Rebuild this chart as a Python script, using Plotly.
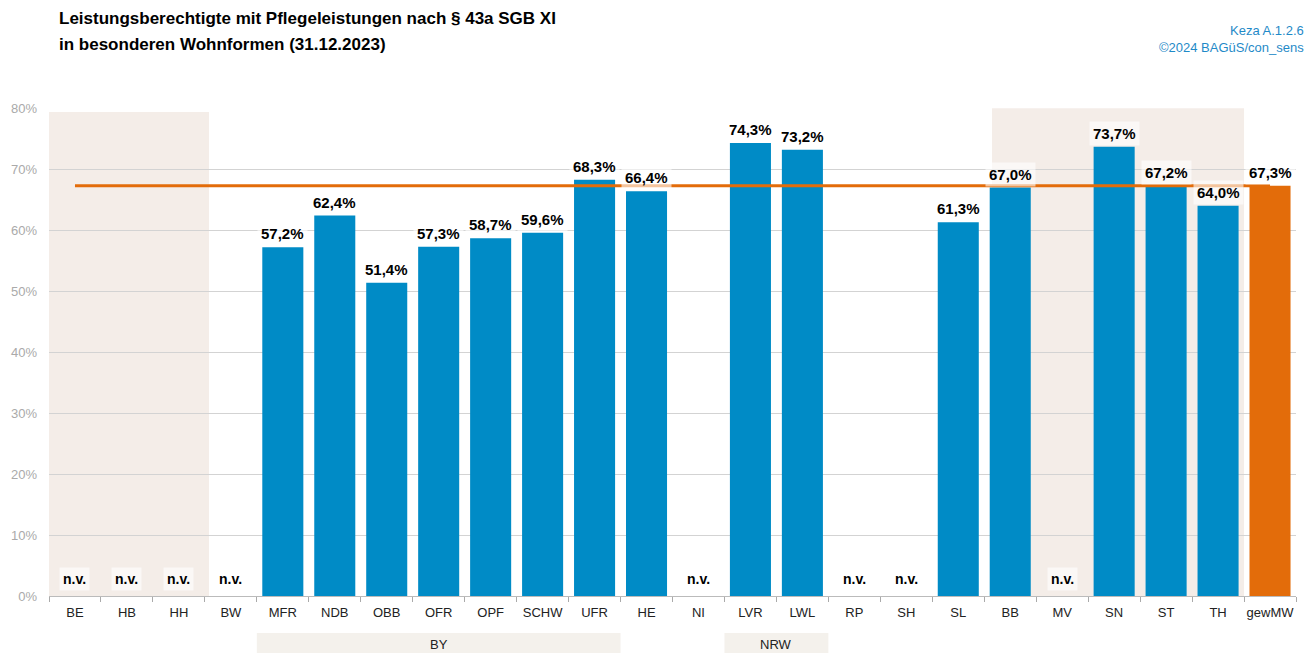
import plotly.graph_objects as go

# Daten (Anteil in %), None = nicht vorhanden
regionen = ['BE', 'HB', 'HH', 'BW', 'MFR', 'NDB', 'OBB', 'OFR', 'OPF', 'SCHW', 'UFR', 'HE',
            'NI', 'LVR', 'LWL', 'RP', 'SH', 'SL', 'BB', 'MV', 'SN', 'ST', 'TH', 'gewMW']
anteil = [None, None, None, None, 57.2, 62.4, 51.4, 57.3, 58.7, 59.6, 68.3, 66.4,
          None, 74.3, 73.2, None, None, 61.3, 67.0, None, 73.7, 67.2, 64.0, 67.3]
gruppen = [('BY', 'MFR', 'UFR'), ('NRW', 'LVR', 'LWL')]
mittelwert = 67.3

FONT = 'Liberation Sans, Arial'
BLAU = '#008BC6'
ORANGE = '#E36C0A'
HINTERGRUND = '#F4EDE8'

idx = {r: i for i, r in enumerate(regionen)}
farben = [ORANGE if r == 'gewMW' else BLAU for r in regionen]

fig = go.Figure()

# Hintergrundflächen (Stadtstaaten / Ostländer)
fig.add_shape(type='rect', xref='x', yref='y', x0=-0.5, x1=2.58, y0=0, y1=79.4,
              fillcolor=HINTERGRUND, line_width=0, layer='below')
fig.add_shape(type='rect', xref='x', yref='y', x0=17.65, x1=22.5, y0=0, y1=80,
              fillcolor=HINTERGRUND, line_width=0, layer='below')

fig.add_trace(go.Bar(
    x=regionen,
    y=anteil,
    marker=dict(color=farben, line_width=0),
    width=0.79,
    showlegend=False,
    hoverinfo='x+y'
))

# gewichteter Mittelwert als Linie
fig.add_trace(go.Scatter(
    x=[regionen[0], regionen[-1]],
    y=[mittelwert, mittelwert],
    mode='lines',
    line=dict(color=ORANGE, width=2.8),
    showlegend=False,
    hoverinfo='skip'
))

# Beschriftungen
for r, v in zip(regionen, anteil):
    if v is None:
        fig.add_annotation(x=r, y=0, text='<b>n.v.</b>', showarrow=False,
                           yanchor='bottom', yshift=5,
                           font=dict(family=FONT, size=14, color='black'),
                           bgcolor='rgba(255,255,255,0.6)', borderpad=3)
    else:
        txt = f'{v:.1f}'.replace('.', ',') + '%'
        fig.add_annotation(x=r, y=v, text=f'<b>{txt}</b>', showarrow=False,
                           yanchor='bottom', yshift=1,
                           font=dict(family=FONT, size=15, color='black'),
                           bgcolor='rgba(255,255,255,0.6)', borderpad=3)

# Gruppenbeschriftungen BY / NRW
for name, von, bis in gruppen:
    x0 = idx[von] - 0.5
    x1 = idx[bis] + 0.5
    fig.add_shape(type='rect', xref='x', yref='paper', x0=x0, x1=x1, y0=-0.12, y1=-0.076,
                  fillcolor='#F4F1EC', line_width=0)
    fig.add_annotation(x=(x0 + x1) / 2, xref='x', y=-0.1, yref='paper', text=name,
                       showarrow=False, yanchor='middle',
                       font=dict(family=FONT, size=13, color='#222'))

# Titel
fig.add_annotation(xref='paper', yref='paper', x=8 / 1247, y=1.184, xanchor='left', yanchor='middle',
                   text='<b>Leistungsberechtigte mit Pflegeleistungen nach § 43a SGB XI</b>',
                   showarrow=False, font=dict(family=FONT, size=17, color='black'))
fig.add_annotation(xref='paper', yref='paper', x=8 / 1247, y=1.131, xanchor='left', yanchor='middle',
                   text='<b>in besonderen Wohnformen (31.12.2023)</b>',
                   showarrow=False, font=dict(family=FONT, size=17, color='black'))

fig.add_annotation(xref='paper', yref='paper', x=1.008, y=1.158, xanchor='right', yanchor='middle',
                   text='Keza A.1.2.6', showarrow=False,
                   font=dict(family=FONT, size=13, color='#1F8AC8'))
fig.add_annotation(xref='paper', yref='paper', x=1.008, y=1.123, xanchor='right', yanchor='middle',
                   text='©2024 BAGüS/con_sens', showarrow=False,
                   font=dict(family=FONT, size=13, color='#1F8AC8'))

fig.update_layout(
    width=1316, height=653,
    margin=dict(l=49, r=20, t=108, b=57),
    plot_bgcolor='white',
    paper_bgcolor='white',
    xaxis=dict(
        type='category',
        tickson='boundaries',
        ticks='outside', ticklen=5, tickcolor='#aaaaaa',
        showline=True, linecolor='#bbbbbb', linewidth=1,
        showgrid=False,
        tickangle=0,
        tickfont=dict(family=FONT, size=13, color='#222'),
        ticklabelstandoff=4,
        range=[-0.5, len(regionen) - 0.5]
    ),
    yaxis=dict(
        range=[0, 80.05],
        dtick=10,
        ticksuffix='%',
        showgrid=True, gridcolor='#d3d3d3', gridwidth=1,
        zeroline=False,
        showline=False,
        tickfont=dict(family=FONT, size=13, color='#aaaaaa'),
        ticklabelstandoff=11
    )
)

fig.write_html('out.html', config={'displayModeBar': False},
               post_script="document.body.style.margin='0';")
